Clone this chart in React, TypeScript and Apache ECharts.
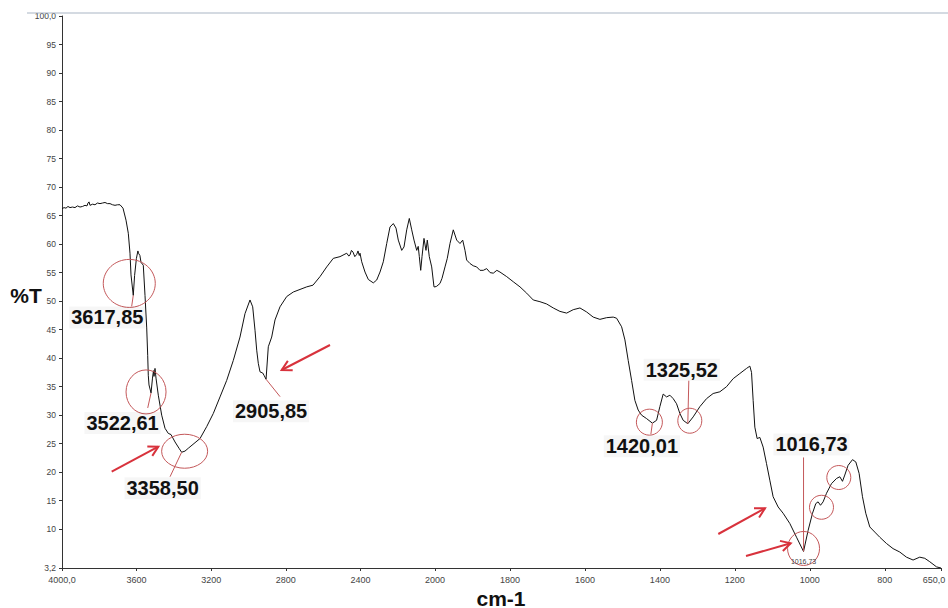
import { useEffect, useRef } from "react";
import * as echarts from "echarts";

// FTIR transmittance spectrum, 4000–2000 cm-1 segment (wavenumber, %T)
const highWavenumber = [
  4000, 3989, 3978.6, 3968, 3957.1, 3944, 3930.3, 3917, 3903.5, 3890, 3876.7, 3866,
  3860.6, 3855, 3849.9, 3836, 3823.1, 3810, 3796.2, 3783, 3769.4, 3756, 3742.6, 3729,
  3715.8, 3702, 3689, 3672.9, 3656.8, 3644.5, 3635.4, 3630, 3610.7, 3601, 3593, 3589.8,
  3582.3, 3576.4, 3564.1, 3554.9, 3545.8, 3540.5, 3537.3, 3533.5, 3514.8, 3509.4, 3506.7,
  3501.3, 3495.9, 3483.6, 3465.4, 3447.7, 3430, 3415.5, 3394, 3372.6, 3340.5, 3322.8,
  3260, 3224.1, 3188.7, 3152.8, 3116.9, 3081.5, 3045.6, 3018.8, 2992, 2977.5, 2965.1,
  2956, 2947.5, 2938.3, 2923.9, 2916.9, 2893.8, 2875.6, 2857.9, 2831.1, 2795.2, 2759.8,
  2687.9, 2654.1, 2616.6, 2580.6, 2545.3, 2509.4, 2473.4, 2462, 2455.7, 2448, 2439.6,
  2430, 2419.8, 2412.8, 2406, 2402.1, 2393, 2375.3, 2357.6, 2330.8, 2312.6, 2294.9,
  2277.2, 2258.9, 2241.3, 2223.6, 2209.1, 2196.8, 2178.5, 2166.2, 2151.7, 2137.8,
  2124.9, 2112.6, 2098.1, 2090, 2084.1, 2076.6, 2069.7, 2059, 2048.3, 2041.3, 2030.6,
  2017.7, 2005.4, 2000,
];
const highTransmittance = [
  66.2, 66.4, 66.3, 66.6, 66.4, 66.5, 66.4, 66.7, 66.5, 66.6, 66.8, 66.7,
  67.2, 67.4, 66.8, 67.0, 66.9, 67.2, 67.1, 67.2, 67.3, 67.1, 67.1, 66.9,
  66.8, 66.9, 66.9, 66.3, 64.2, 61.9, 58.4, 54.6, 54.5, 57.5, 58.8, 58.4,
  58.0, 56.8, 56.3, 51.0, 45.3, 40.5, 37.0, 35.3, 36.5, 37.8, 36.8,
  38.2, 36.5, 33.5, 30.0, 27.7, 26.8, 26.6, 25.3, 24.2, 23.7, 24.2,
  25.9, 28.0, 30.3, 33.2, 36.1, 39.6, 43.7, 47.8, 50.2, 49.0, 44.9,
  41.4, 39.1, 37.6, 37.4, 37.0, 42.0, 43.7, 46.7, 49.0, 50.8, 51.6,
  52.5, 52.8, 54.3, 56.0, 57.5, 57.8, 58.4, 57.9, 58.1, 58.9, 58.6,
  57.8, 58.2, 58.8, 58.0, 58.4, 56.9, 55.1, 53.8, 53.2, 53.7, 55.1,
  56.9, 60.1, 63.0, 63.6, 62.8, 60.7, 58.9, 59.5, 62.5, 64.5,
  62.5, 60.7, 58.9, 59.6, 57.8, 55.4, 57.8, 61.0, 58.9, 60.7, 57.8,
  56.0, 52.5, 52.5,
];

// 2000–650 cm-1 segment (drawn on the expanded scale)
const lowWavenumber = [
  2000, 1995.5, 1986.7, 1981.3, 1973.3, 1967.2, 1960, 1951.2, 1942.1, 1933.3, 1926.1,
  1920, 1915.5, 1906.7, 1898, 1888.8, 1880, 1871.2, 1862.1, 1853, 1844.5, 1835, 1826.7,
  1808.8, 1791.2, 1773.3, 1755.5, 1737.9, 1720, 1702.1, 1684.5, 1666.7, 1648.8, 1631.2,
  1613.3, 1595.5, 1577.9, 1560, 1542.1, 1524.5, 1515.5, 1502.1, 1493.3, 1484.5, 1475.5,
  1466.7, 1457.9, 1448.8, 1435.5, 1408.8, 1400, 1391.2, 1382.1, 1373.3, 1364.5, 1355.5,
  1346.7, 1337.9, 1311.2, 1293.3, 1275.5, 1257.9, 1240, 1222.1, 1204.5, 1186.7, 1168.8,
  1160, 1155.5, 1151.2, 1146.7, 1140.5, 1133.3, 1124.5, 1115.5, 1106.7, 1097.9, 1084.5,
  1071.2, 1053.3, 1035.5, 1004.5, 992.8, 984, 977.9, 971.5, 964.5, 955.5, 942.1, 928.8,
  920, 912.8, 906.7, 897.9, 886.1, 877.3, 868.5, 859.5, 850.7, 840, 826.7, 813.3, 795.5,
  777.9, 760, 742.1, 724.5, 706.7, 693.3, 680, 662, 650,
];
const lowTransmittance = [
  52.5, 52.6, 53.1, 54.0, 56.0, 57.5, 60.1, 62.5, 60.7, 60.1, 60.7,
  58.9, 57.2, 56.6, 56.2, 56.0, 55.4, 55.4, 55.7, 55.0, 54.9, 55.4, 55.1,
  54.3, 53.4, 52.5, 51.4, 50.2, 49.9, 49.5, 48.8, 48.2, 47.9, 48.5,
  48.8, 48.1, 47.2, 46.8, 47.1, 47.2, 47.0, 45.5, 43.2, 39.6, 36.1,
  32.6, 30.9, 30.0, 29.4, 29.1, 31.5, 33.7, 33.2, 33.5, 32.9, 32.0,
  30.3, 29.1, 29.7, 31.5, 32.9, 33.8, 34.1, 35.0, 36.4, 37.3, 38.2,
  38.6, 37.5, 32.6, 27.9, 25.9, 26.1, 24.4, 21.5, 18.6, 15.7, 13.9,
  12.8, 11.0, 8.6, 9.8, 12.8, 14.5, 14.8, 14.2, 14.8, 16.3, 18.0, 18.9,
  19.2, 18.4, 19.5, 21.2, 22.2, 21.8, 19.8, 15.7, 12.8, 10.4, 9.5, 8.6, 7.5,
  6.6, 6.0, 5.1, 4.6, 5.1, 4.9, 4.3, 3.4, 3.2,
];

// Assigned band minima
const peakWavenumber = [3617.85, 3522.61, 3358.5, 2905.85, 1420.01, 1325.52, 1016.73];
const peakTransmittance = [51.0, 33.9, 23.5, 36.3, 28.6, 28.5, 6.1];

// Shoulders on the low-frequency side that are circled too
const shoulderWavenumber = [971.5, 912.8];
const shoulderTransmittance = [14.2, 18.4];

// Axis ticks
const yTickValues = [3.2, 10, 15, 20, 25, 30, 35, 40, 45, 50, 55, 60, 65, 70, 75, 80, 85, 90, 95, 100];
const lowXTickValues = [650, 800, 1000, 1200, 1400, 1600, 1800];

// Annotation layout, in pixels relative to each band minimum
const labelOffsets = [[-26, 22], [-28.5, 30], [-19, 36], [5, 32], [-10.5, 23], [-6, -54], [8, -107]];
const leaderOffsets = [[-1.6, 11], [-3.3, 15], [-11.6, 24.5], [14, 17.4], [-1.5, 11], [1, -43], [0, -94]];
const ringLayout: (number[] | null)[] = [
  [-4, -12, 26, 24],
  [-5, -1, 20, 22],
  [3, -1, 23, 17],
  null,
  [-3, -1, 13, 13],
  [2, -3, 12, 12.5],
  [0, -3, 16, 17],
];
const shoulderRingLayout = [[1, 2, 12, 12], [-3.7, -3.8, 12, 12]];
const arrowSegments = [
  [111.7, 471.7, 158.3, 446.7],
  [330, 345, 281.7, 370],
  [718.3, 534, 765, 508.3],
  [746, 556, 790.7, 543.3],
];

const RING = "#c4585a";
const ARROW = "#d8323c";
const LABEL_FONT = 'bold 20px "Liberation Sans", Arial, sans-serif';
const TICK_FONT = '"Liberation Sans", Arial, sans-serif';

const fmtComma = (v: number, digits: number) => v.toFixed(digits).replace(".", ",");

function buildSeries(ws: number[], ts: number[], keep: (w: number) => boolean) {
  const pts = ws.map((w, i) => [w, ts[i]]);
  peakWavenumber.forEach((w, i) => {
    if (keep(w)) pts.push([w, peakTransmittance[i]]);
  });
  return pts.sort((a, b) => b[0] - a[0]);
}

export default function App() {
  const ref = useRef<HTMLDivElement>(null);

  useEffect(() => {
    const el = ref.current;
    if (!el) return;
    const chart = echarts.init(el, null, { renderer: "svg" });

    const highData = buildSeries(highWavenumber, highTransmittance, (w) => w >= 2000);
    const lowData = buildSeries(lowWavenumber, lowTransmittance, (w) => w < 2000);

    const axisLineStyle = { lineStyle: { color: "#333", width: 1 } };
    const tickLabel = { color: "#444", fontSize: 9, fontFamily: TICK_FONT };

    chart.setOption({
      animation: false,
      backgroundColor: "#ffffff",
      grid: [
        { left: 62, top: 16, width: 373, height: 552, containLabel: false, outerBoundsMode: "none" },
        { left: 435, top: 16, width: 506, height: 552, containLabel: false, outerBoundsMode: "none" },
      ],
      xAxis: [
        {
          type: "value",
          gridIndex: 0,
          min: 2000,
          max: 4000,
          interval: 400,
          inverse: true,
          axisLine: axisLineStyle,
          axisTick: { show: true, length: 3, lineStyle: { color: "#333" } },
          axisLabel: {
            ...tickLabel,
            margin: 7,
            formatter: (v: number) => (v === 4000 ? "4000,0" : String(v)),
          },
          splitLine: { show: false },
        },
        {
          type: "value",
          gridIndex: 1,
          min: 650,
          max: 2000,
          inverse: true,
          axisLine: axisLineStyle,
          axisTick: { show: true, length: 3, customValues: lowXTickValues, lineStyle: { color: "#333" } },
          axisLabel: {
            ...tickLabel,
            margin: 7,
            customValues: lowXTickValues,
            // the last label sits at the right edge, so it is nudged inwards
            formatter: (v: number) => (v === 650 ? "{edge|650,0}" : String(v)),
            rich: {
              edge: { ...tickLabel, padding: [0, 14, 0, 0] },
            },
          },
          splitLine: { show: false },
        },
      ],
      yAxis: [
        {
          type: "value",
          gridIndex: 0,
          min: 3.2,
          max: 100,
          axisLine: { show: true, ...axisLineStyle },
          axisTick: { show: true, length: 3, customValues: yTickValues, lineStyle: { color: "#333" } },
          axisLabel: {
            ...tickLabel,
            fontSize: 8.5,
            margin: 6,
            padding: [0, 0, 6, 0],
            customValues: yTickValues,
            formatter: (v: number) => (v === 100 ? "100,0" : v === 3.2 ? "3,2" : String(v)),
          },
          splitLine: { show: false },
        },
        {
          type: "value",
          gridIndex: 1,
          min: 3.2,
          max: 100,
          show: false,
          splitLine: { show: false },
        },
      ],
      series: [
        {
          type: "line",
          xAxisIndex: 0,
          yAxisIndex: 0,
          data: highData,
          showSymbol: false,
          symbol: "none",
          lineStyle: { color: "#111", width: 1 },
        },
        {
          type: "line",
          xAxisIndex: 1,
          yAxisIndex: 1,
          data: lowData,
          showSymbol: false,
          symbol: "none",
          lineStyle: { color: "#111", width: 1 },
        },
      ],
    });

    const toPx = (w: number, t: number) =>
      chart.convertToPixel({ seriesIndex: w >= 2000 ? 0 : 1 }, [w, t]) as number[];

    const elements: any[] = [];

    // frame line across the top of the plot
    elements.push({
      type: "line",
      z: 50,
      shape: { x1: 27, y1: 13, x2: 948, y2: 13 },
      style: { stroke: "#a9b5c4", lineWidth: 1 },
    });

    // axis titles
    elements.push({
      type: "text",
      z: 50,
      x: 26,
      y: 295,
      style: { text: "%T", font: 'bold 21px "Liberation Sans", Arial, sans-serif', fill: "#111", align: "center", verticalAlign: "middle" },
    });
    elements.push({
      type: "text",
      z: 50,
      x: 501,
      y: 598,
      style: { text: "cm-1", font: 'bold 21px "Liberation Sans", Arial, sans-serif', fill: "#111", align: "center", verticalAlign: "middle" },
    });

    peakWavenumber.forEach((w, i) => {
      const [px, py] = toPx(w, peakTransmittance[i]);
      const [lx, ly] = labelOffsets[i];
      const [dx, dy] = leaderOffsets[i];
      elements.push({
        type: "line",
        z: 40,
        shape: { x1: px, y1: py, x2: px + dx, y2: py + dy },
        style: { stroke: RING, lineWidth: 1 },
      });
      const ring = ringLayout[i];
      if (ring) {
        elements.push({
          type: "ellipse",
          z: 40,
          shape: { cx: px + ring[0], cy: py + ring[1], rx: ring[2], ry: ring[3] },
          style: { fill: "none", stroke: RING, lineWidth: 1 },
        });
      }
      elements.push({
        type: "text",
        z: 45,
        x: px + lx,
        y: py + ly,
        style: {
          text: fmtComma(w, 2),
          font: LABEL_FONT,
          fill: "#111",
          align: "center",
          verticalAlign: "middle",
          backgroundColor: "rgba(0,0,0,0.035)",
          padding: [1, 2],
        },
      });
    });

    // small value tag under the strongest band
    {
      const last = peakWavenumber.length - 1;
      const [px, py] = toPx(peakWavenumber[last], peakTransmittance[last]);
      elements.push({
        type: "text",
        z: 45,
        x: px,
        y: py + 10,
        style: { text: fmtComma(peakWavenumber[last], 2), font: '7px "Liberation Sans", Arial, sans-serif', fill: "#444", align: "center", verticalAlign: "middle" },
      });
    }

    shoulderWavenumber.forEach((w, i) => {
      const [px, py] = toPx(w, shoulderTransmittance[i]);
      const r = shoulderRingLayout[i];
      elements.push({
        type: "ellipse",
        z: 40,
        shape: { cx: px + r[0], cy: py + r[1], rx: r[2], ry: r[3] },
        style: { fill: "none", stroke: RING, lineWidth: 1 },
      });
    });

    arrowSegments.forEach(([x1, y1, x2, y2]) => {
      const ang = Math.atan2(y2 - y1, x2 - x1);
      const len = 11;
      const spread = 0.5;
      const h1 = [x2 - len * Math.cos(ang - spread), y2 - len * Math.sin(ang - spread)];
      const h2 = [x2 - len * Math.cos(ang + spread), y2 - len * Math.sin(ang + spread)];
      elements.push({
        type: "line",
        z: 40,
        shape: { x1, y1, x2, y2 },
        style: { stroke: ARROW, lineWidth: 2 },
      });
      elements.push({
        type: "polyline",
        z: 40,
        shape: { points: [h1, [x2, y2], h2] },
        style: { stroke: ARROW, lineWidth: 2, fill: "none" },
      });
    });

    chart.setOption({ graphic: { elements } });

    return () => chart.dispose();
  }, []);

  return (
    <div
      ref={ref}
      style={{ position: "absolute", left: 0, top: 0, width: 948, height: 608, background: "#fff" }}
    />
  );
}
